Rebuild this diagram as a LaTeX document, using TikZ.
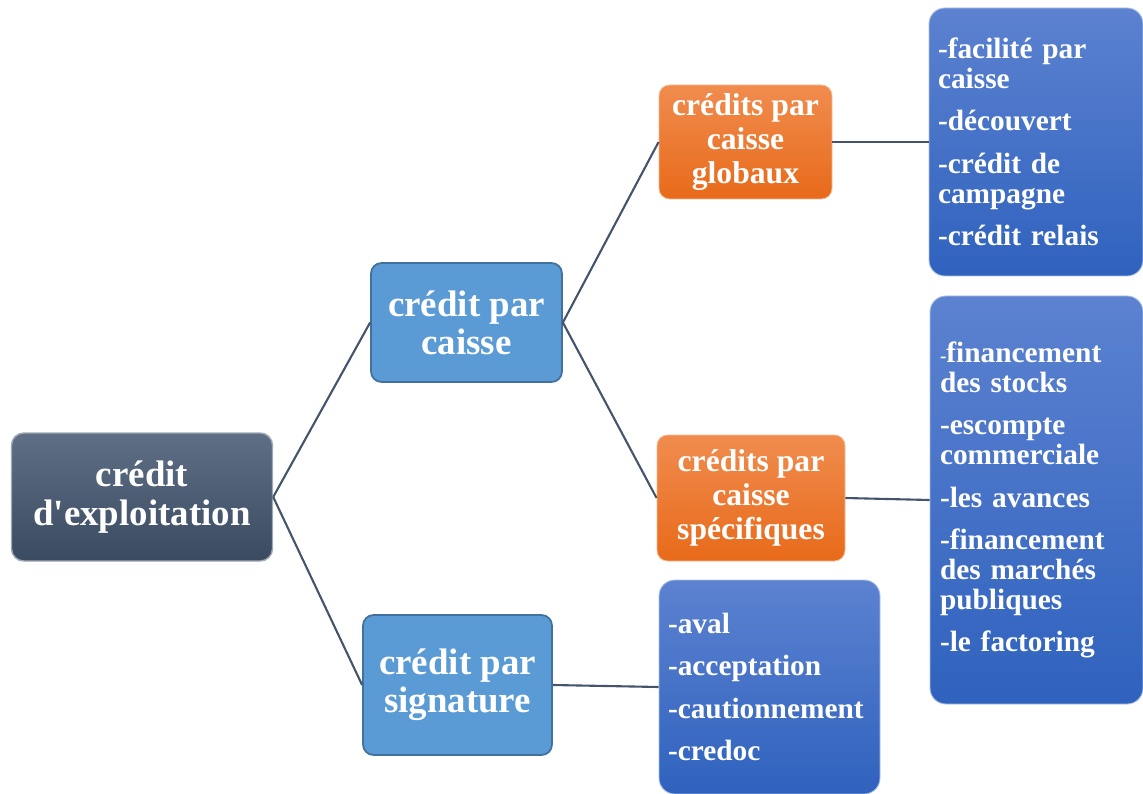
\documentclass[tikz,border=0pt]{standalone}
\usepackage{fontspec}
\setmainfont{Liberation Serif}[Ligatures=TeXOff]
\definecolor{linec}{HTML}{44546A}
\definecolor{slatetop}{HTML}{5F6F86}
\definecolor{slatebot}{HTML}{3A4A60}
\definecolor{midfill}{HTML}{5B9BD5}
\definecolor{middraw}{HTML}{41719C}
\definecolor{orangetop}{HTML}{F08C4E}
\definecolor{orangebot}{HTML}{E86A1A}
\definecolor{listtop}{HTML}{5C82D0}
\definecolor{listbot}{HTML}{2F62BE}
\tikzset{
  link/.style={line width=1.2pt, draw=linec},
  rootbox/.style={rounded corners=7pt, top color=slatetop, bottom color=slatebot, draw=slatetop!60!white,
    line width=0.8pt, text=white, align=center, font=\fontsize{21}{22}\selectfont\bfseries,
    minimum width=5.22cm, minimum height=2.56cm},
  midbox/.style={rounded corners=6pt, fill=midfill, draw=middraw, line width=1pt, text=white,
    align=center, font=\fontsize{21}{21.5}\selectfont\bfseries},
  subbox/.style={rounded corners=6pt, top color=orangetop, bottom color=orangebot, draw=orangetop!60!white,
    line width=0.5pt, text=white, align=center, font=\fontsize{18}{19.5}\selectfont\bfseries},
  listbox/.style={rounded corners=9pt, top color=listtop, bottom color=listbot, draw=listtop!50!white,
    line width=0.5pt, text=white, align=left, inner xsep=0.18cm, font=\fontsize{16.7}{17}\selectfont\bfseries},
}
\newcommand{\gap}{\\[7.2pt]}

\begin{document}
\begin{tikzpicture}
\useasboundingbox (0,0) rectangle (22.86,-15.88);

\node[rootbox] (root) at (2.84,-9.94) {crédit\\d'exploitation};
\node[midbox, minimum width=3.82cm, minimum height=2.38cm] (caisse) at (9.33,-6.45) {crédit par\\caisse};
\node[midbox, minimum width=3.78cm, minimum height=2.80cm] (signature) at (9.15,-13.70) {crédit par\\signature};
\node[subbox, minimum width=3.46cm, minimum height=2.28cm] (globaux) at (14.91,-2.84) {crédits par\\caisse\\globaux};
\node[subbox, minimum width=3.76cm, minimum height=2.52cm] (specif) at (15.02,-9.96) {crédits par\\caisse\\spécifiques};

\node[listbox, text width=3.92cm, minimum height=5.36cm] (listglob) at (20.72,-2.84)
  {-facilité par\\caisse\gap -découvert\gap -crédit de\\campagne\gap -crédit relais};
\node[listbox, text width=3.86cm, inner xsep=0.2cm, minimum height=8.16cm] (listspec) at (20.73,-10.0)
  {{\fontsize{11}{11}\selectfont -}financement\\des stocks\gap -escompte\\commerciale\gap -les avances\gap
   -financement\\des marchés\\publiques\gap -le factoring};
\node[listbox, text width=4.06cm, minimum height=4.28cm] (listsig) at (15.39,-13.74)
  {-aval\gap -acceptation\gap -cautionnement\gap -credoc};

\draw[link] (root.east) -- (caisse.west);
\draw[link] (root.east) -- (signature.west);
\draw[link] (caisse.east) -- (globaux.west);
\draw[link] (caisse.east) -- (specif.west);
\draw[link] (globaux.east) -- (listglob.west);
\draw[link] (specif.east) -- (listspec.west);
\draw[link] (signature.east) -- (listsig.west);

\end{tikzpicture}
\end{document}
